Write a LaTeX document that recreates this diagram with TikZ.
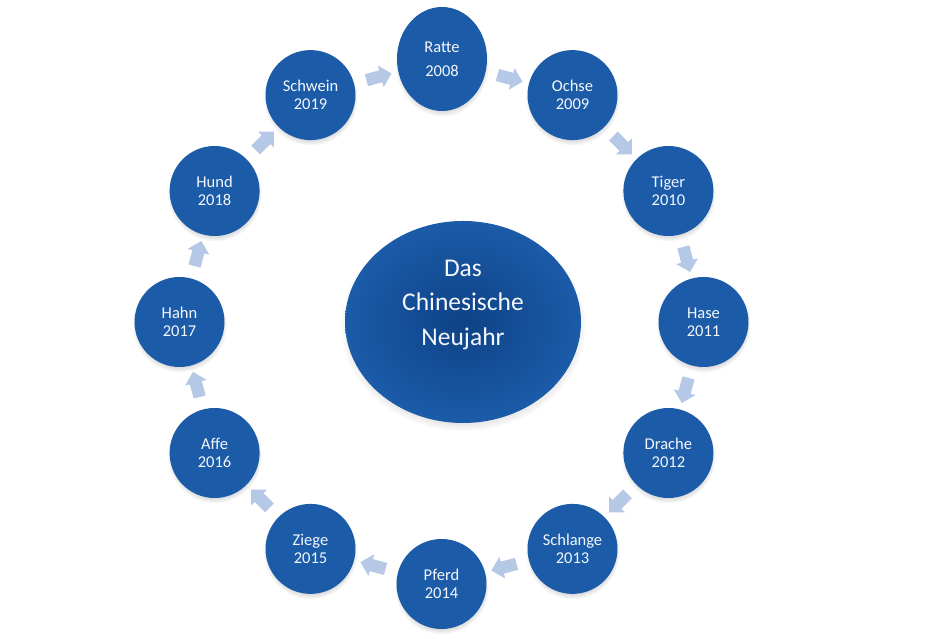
\documentclass[tikz,border=0pt]{standalone}
\usepackage{fontspec}
\setmainfont{Carlito}
\usetikzlibrary{shapes.geometric,shapes.arrows,shadows}
\definecolor{circblue}{HTML}{1B5BA8}
\definecolor{centerdark}{HTML}{0E4286}
\definecolor{arrowblue}{HTML}{B5C9E6}
\definecolor{labelwhite}{HTML}{F4F7FC}
\begin{document}
\begin{tikzpicture}[x=1pt,y=1pt,
  yearnode/.style={circle, minimum size=90pt, inner sep=0pt, fill=circblue,
    text=labelwhite, font=\fontsize{16.5}{18}\selectfont, align=center,
    circular drop shadow={shadow xshift=0pt, shadow yshift=-3pt, shadow scale=1.05, opacity=0.35}},
  flowarrow/.style={single arrow, fill=arrowblue, draw=none, inner sep=6pt,
    minimum height=26pt, single arrow head extend=5pt, anchor=center}]
\useasboundingbox[fill=white] (0,0) rectangle (927,639);
\coordinate (C) at (441.5,317);
% centre
\node[ellipse, minimum width=236pt, minimum height=202pt, inner sep=0pt,
  inner color=centerdark, outer color=circblue,
  circular drop shadow={shadow xshift=0pt, shadow yshift=-4pt, shadow scale=1.04, opacity=0.35}]
  (centre) at (463,317) {};
\node[text=labelwhite, font=\fontsize{25.5}{34.5}\selectfont, align=center]
  (centretext) at ([yshift=17pt]centre) {Das\\Chinesische\\Neujahr};
% year circles
\node[yearnode, ellipse, minimum width=90pt, minimum height=104pt,
  font=\fontsize{16.5}{24}\selectfont] (ratte) at (442,580) {Ratte\\2008};
\node[yearnode] (ochse)    at ([shift={(60:262pt)}]C)  {Ochse\\2009};
\node[yearnode] (tiger)    at ([shift={(30:262pt)}]C)  {Tiger\\2010};
\node[yearnode] (hase)     at ([shift={(0:262pt)}]C)   {Hase\\2011};
\node[yearnode] (drache)   at ([shift={(-30:262pt)}]C) {Drache\\2012};
\node[yearnode] (schlange) at ([shift={(-60:262pt)}]C) {Schlange\\2013};
\node[yearnode] (pferd)    at ([shift={(-90:262pt)}]C) {Pferd\\2014};
\node[yearnode] (ziege)    at ([shift={(-120:262pt)}]C) {Ziege\\2015};
\node[yearnode] (affe)     at ([shift={(-150:262pt)}]C) {Affe\\2016};
\node[yearnode] (hahn)     at ([shift={(180:262pt)}]C) {Hahn\\2017};
\node[yearnode] (hund)     at ([shift={(150:262pt)}]C) {Hund\\2018};
\node[yearnode] (schwein)  at ([shift={(120:262pt)}]C) {Schwein\\2019};
% arrows between circles (clockwise)
\foreach \a [count=\i] in {75,45,15,-15,-45,-75,-105,-135,-165,165,135,105}{
  \pgfmathsetmacro{\rot}{\a-90}
  \node[flowarrow, rotate=\rot] (arr\i) at ([shift={(\a:253pt)}]C) {};
}
\end{tikzpicture}
\end{document}
